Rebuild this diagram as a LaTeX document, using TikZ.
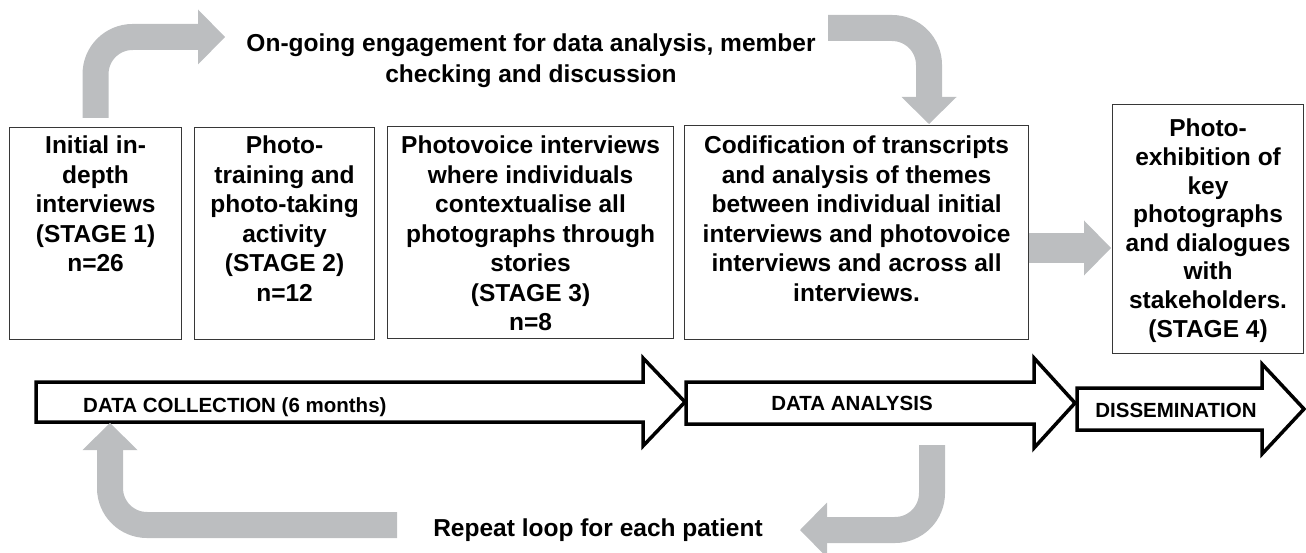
\documentclass[tikz,border=0pt]{standalone}
\usepackage{fontspec}
\setmainfont{Liberation Sans}
\usepackage{tikz}
\usetikzlibrary{arrows.meta}
\tikzstyle{pixelSheet} = [x = 1pt, y = -1pt]
\definecolor{loopGrey}{RGB}{188,190,192}
\definecolor{frameColor}{RGB}{55,55,55}
\tikzstyle{stageFrame} = [draw=frameColor, line width=1.1pt, inner sep=0pt, anchor=north west]
\tikzstyle{stageText} = [font=\fontsize{24.5}{29.5}\selectfont\bfseries, align=center, anchor=north, inner sep=0pt]
\tikzstyle{loopText} = [font=\fontsize{24.5}{31}\selectfont\bfseries, align=center, inner sep=0pt]
\tikzstyle{phaseText} = [font=\fontsize{20.5}{24}\selectfont\bfseries, inner sep=0pt]
\tikzstyle{phaseArrowStyle} = [draw=black, fill=white, line width=3.5pt, miter limit=20]
\tikzstyle{loopArrow} = [draw=loopGrey, line width=26pt, rounded corners=37pt, -{Triangle[length=27pt, width=55pt, line width=0pt]}]
\newcommand{\stageBox}[7]{\node [stageFrame, minimum width=#4pt, minimum height=#5pt] (#1) at (#2, #3) {}; \node [stageText, #6] (#1Text) at (#1.north) {#7};}
\newcommand{\phaseArrow}[6]{\filldraw [phaseArrowStyle] (#1, #4 - #5) -- (#2, #4 - #5) -- (#2, #4 - #6) -- (#3, #4) -- (#2, #4 + #6) -- (#2, #4 + #5) -- (#1, #4 + #5) -- cycle;}

\begin{document}
\begin{tikzpicture}[pixelSheet]
          \useasboundingbox (0, 0) rectangle (1306, 553);
          \stageBox{s1}{9}{127}{172}{212}{yshift=-9pt}{Initial in-\\depth\\interviews\\(STAGE 1)\\n=26}
          \stageBox{s2}{194}{127}{180}{212}{yshift=-9pt}{Photo-\\training and\\photo-taking\\activity\\(STAGE 2)\\n=12}
          \stageBox{s3}{387}{126}{286}{212}{yshift=-10pt}{Photovoice interviews\\where individuals\\contextualise all\\photographs through\\stories\\(STAGE 3)\\n=8}
          \stageBox{s4}{684}{125}{344}{214}{yshift=-11pt}{Codification of transcripts\\and analysis of themes\\between individual initial\\interviews and photovoice\\interviews and across all\\interviews.}
          \stageBox{s5}{1112}{104}{191}{249}{yshift=-15pt, font=\fontsize{24.5}{28.6}\selectfont\bfseries}{Photo-\\exhibition of\\key\\photographs\\and dialogues\\with\\stakeholders.\\(STAGE 4)}

          \phaseArrow{36}{643}{685}{402}{20}{44}
          \phaseArrow{686}{1034}{1075}{403}{21}{45}
          \phaseArrow{1077}{1262}{1304}{409}{21}{45}
          \node [phaseText, anchor=west] (collectLabel) at (83, 407) {DATA COLLECTION (6 months)};
          \node [phaseText] (analysisLabel) at (852, 403) {DATA ANALYSIS};
          \node [phaseText] (disseminateLabel) at (1176, 410) {DISSEMINATION};

          \node [loopText] (engageText) at (531, 61) {On-going engagement for data analysis, member\\checking and discussion};
          \node [loopText] (repeatText) at (598, 530) {Repeat loop for each patient};

          \coordinate (engageTip) at (225, 37);
          \coordinate (engageOut) at (828, 28);
          \coordinate (codifyTip) at (929, 124);
          \coordinate (exhibitTip) at (1111, 248);
          \coordinate (analysisOut) at (932, 445);
          \coordinate (repeatTip) at (800, 530);
          \coordinate (repeatOut) at (397, 525);
          \coordinate (collectTip) at (110, 423);

          \draw [loopArrow] ([yshift=9pt]s1.north) |- (engageTip);
          \draw [loopArrow] (engageOut) -| (codifyTip);
          \draw [loopArrow, line width=30pt] (s4.east |- exhibitTip) -- (exhibitTip);
          \draw [loopArrow] (analysisOut) |- (repeatTip);
          \draw [loopArrow] (repeatOut) -| (collectTip);
        \end{tikzpicture}
\end{document}
